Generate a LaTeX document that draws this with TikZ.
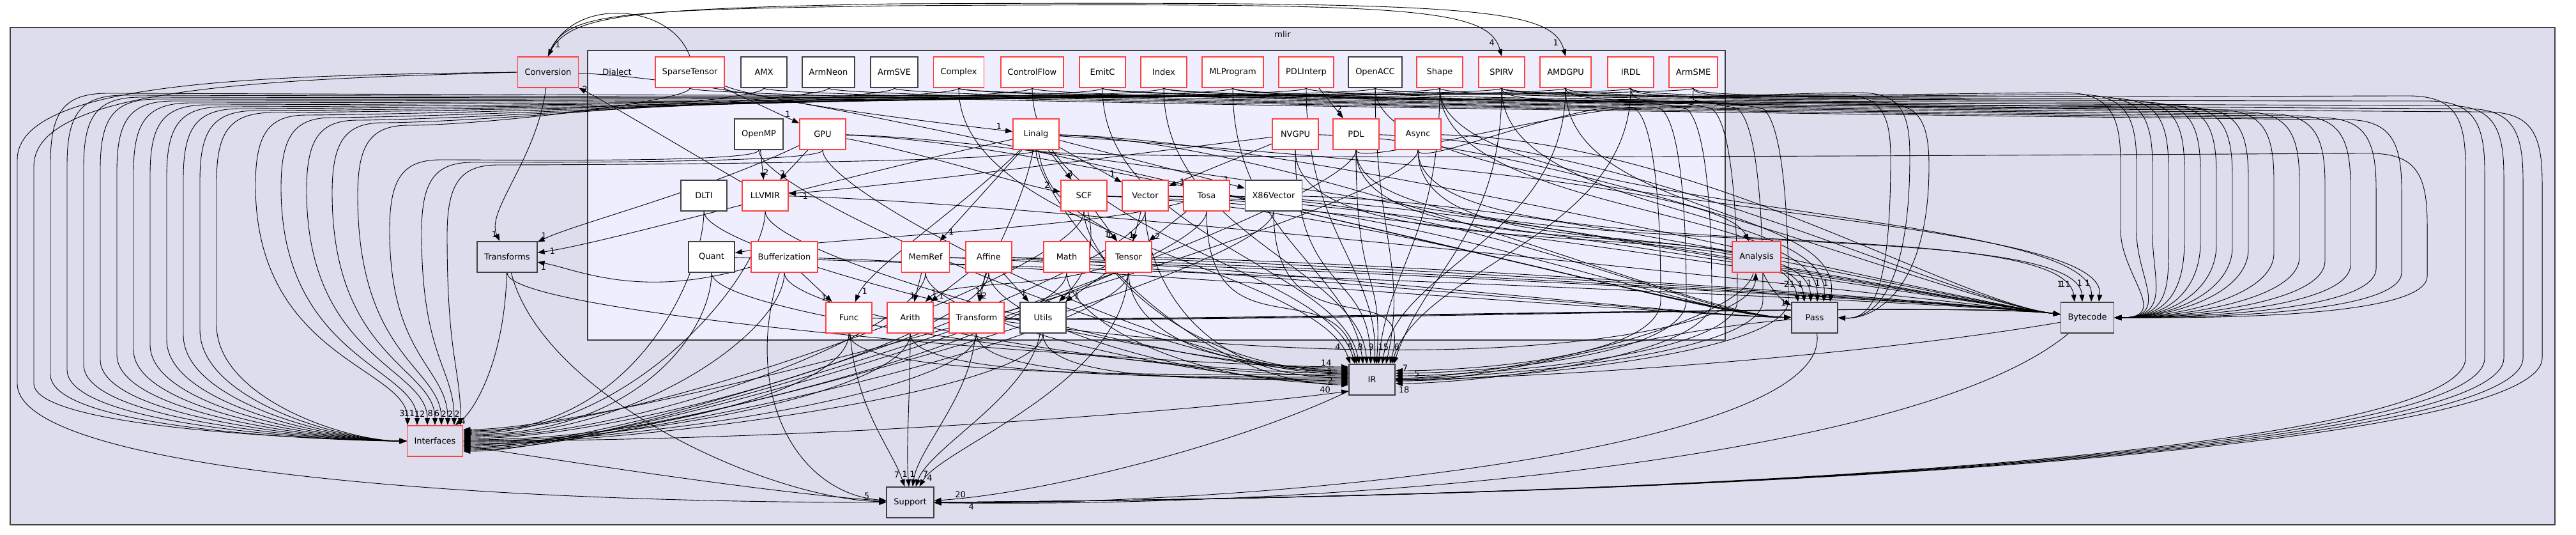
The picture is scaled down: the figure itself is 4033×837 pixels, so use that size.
\documentclass[tikz,border=0pt]{standalone}
\usepackage{fontspec}
\setmainfont{DejaVu Sans}
\usetikzlibrary{arrows.meta, calc}
\definecolor{mlirbg}{RGB}{221,221,238}
\definecolor{dialbg}{RGB}{238,238,255}
\definecolor{redbrd}{RGB}{255,64,64}
\definecolor{grybrd}{RGB}{64,64,64}
\newcommand{\dirfont}{\fontsize{13}{15}\selectfont}
\pgfdeclarelayer{frames}
\pgfdeclarelayer{edges}
\pgfsetlayers{frames,edges,main}
\tikzset{
  % directory boxes
  dirnode/.style  = {rectangle, minimum width=72pt, minimum height=48pt, inner xsep=11pt, font=\dirfont},
  dirred/.style   = {dirnode, fill=white, draw=redbrd, line width=1.8pt},
  dirblk/.style   = {dirnode, fill=white, draw=grybrd, line width=1.8pt},
  outred/.style   = {dirnode, fill=mlirbg, draw=redbrd, line width=1.8pt},
  outblk/.style   = {dirnode, fill=mlirbg, draw=grybrd, line width=1.8pt},
  frameline/.style= {draw=grybrd, line width=1.4pt},
  % dependencies
  dep/.style      = {-{Triangle[length=11pt,width=8pt]}, line width=0.9pt, black},
  lab/.style      = {font=\dirfont, inner sep=0.5pt},
}

\begin{document}
\begin{tikzpicture}[x=1pt, y=-1pt]
  \useasboundingbox (0,0) rectangle (4033,837);
  % clusters
  \begin{pgfonlayer}{frames}
    \draw[frameline, fill=mlirbg] (16,43) rectangle (4000,821);
    \draw[frameline, fill=dialbg] (920,79) rectangle (2701,532);
  \end{pgfonlayer}
  \node[font=\dirfont] (mlir) at (2008,54) {mlir};
  \node[font=\dirfont] (Dialect) at (966,113) {Dialect};
  % row 1
  \node[outred] (Conversion)   at (858,113)  {Conversion};
  \node[dirred] (SparseTensor) at (1080,113) {SparseTensor};
  \node[dirblk] (AMX)          at (1196,113) {AMX};
  \node[dirblk] (ArmNeon)      at (1297,113) {ArmNeon};
  \node[dirblk] (ArmSVE)       at (1400,113) {ArmSVE};
  \node[dirred] (Complex)      at (1501,113) {Complex};
  \node[dirred] (ControlFlow)  at (1616,113) {ControlFlow};
  \node[dirred] (EmitC)        at (1726,113) {EmitC};
  \node[dirred] (Index)        at (1822,113) {Index};
  \node[dirred] (MLProgram)    at (1930,113) {MLProgram};
  \node[dirred] (PDLInterp)    at (2045,113) {PDLInterp};
  \node[dirblk] (OpenACC)      at (2153,113) {OpenACC};
  \node[dirred] (Shape)        at (2254,113) {Shape};
  \node[dirred] (SPIRV)        at (2351,113) {SPIRV};
  \node[dirred] (AMDGPU)       at (2451,113) {AMDGPU};
  \node[dirred] (IRDL)         at (2553,113) {IRDL};
  \node[dirred] (ArmSME)       at (2651,113) {ArmSME};
  % row 2
  \node[dirblk] (OpenMP) at (1188,210) {OpenMP};
  \node[dirred] (GPU)    at (1288,210) {GPU};
  \node[dirred] (Linalg) at (1622,210) {Linalg};
  \node[dirred] (NVGPU)  at (2028,210) {NVGPU};
  \node[dirred] (PDL)    at (2123,210) {PDL};
  \node[dirred] (Async)  at (2220,210) {Async};
  % row 3
  \node[dirblk] (DLTI)      at (1102,306) {DLTI};
  \node[dirred] (LLVMIR)    at (1198,306) {LLVMIR};
  \node[dirred] (SCF)       at (1697,306) {SCF};
  \node[dirred] (Vector)    at (1793,306) {Vector};
  \node[dirred] (Tosa)      at (1889,306) {Tosa};
  \node[dirblk] (X86Vector) at (1994,306) {X86Vector};
  % row 4
  \node[outblk] (Transforms)    at (794,402)  {Transforms};
  \node[dirblk] (Quant)         at (1114,402) {Quant};
  \node[dirred] (Bufferization) at (1228,402) {Bufferization};
  \node[dirred] (MemRef)        at (1449,402) {MemRef};
  \node[dirred] (Affine)        at (1548,402) {Affine};
  \node[dirred] (Math)          at (1670,402) {Math};
  \node[dirred] (Tensor)        at (1767,402) {Tensor};
  \node[outred] (Analysis)      at (2750,402) {Analysis};
  % row 5
  \node[dirred] (Func)      at (1329,497) {Func};
  \node[dirred] (Arith)     at (1425,497) {Arith};
  \node[dirred] (Transform) at (1529,497) {Transform};
  \node[dirblk] (Utils)     at (1633,497) {Utils};
  \node[outblk] (Pass)      at (2841,497) {Pass};
  \node[outblk] (Bytecode)  at (3268,497) {Bytecode};
  % bottom
  \node[outred] (Interfaces) at (681,690)  {Interfaces};
  \node[outblk] (IR)         at (2148,594) {IR};
  \node[outblk] (Support)    at (1425,786) {Support};

  \begin{pgfonlayer}{edges}
  % arcs above the frame
  \draw[dep] (SparseTensor.north) .. controls (1050,5) and (900,-5) .. (Conversion.north)
    node[lab, pos=0.93, right] {1};
  \draw[dep] (Conversion.north) .. controls (880,20) and (950,16) .. (1400,9)
    .. controls (2200,4) and (2330,10) .. (SPIRV.north) node[lab, pos=0.9, left] {4};
  \draw[dep] (Conversion.north) .. controls (885,25) and (960,14) .. (1400,6)
    .. controls (2300,2) and (2430,10) .. (AMDGPU.north) node[lab, pos=0.9, left] {1};

  % left curtain into Interfaces
  \draw[dep] (Conversion.west) .. controls (420,118) and (27,125) .. (27,250)
    -- (27,600) .. controls (27,730) and (700,786) .. (Support.west);
  \draw[dep] (Conversion.west) .. controls (430,124) and (53,135) .. (53,260)
    -- (53,600) .. controls (53,672) and (520,688) .. (Interfaces.west);
  \foreach \src/\col/\bus in {ArmSME/79/146, IRDL/105/149, AMDGPU/131/152, SPIRV/157/155,
      Shape/183/158, OpenACC/209/161, PDLInterp/235/164, MLProgram/261/167,
      Index/287/170, EmitC/313/173, ControlFlow/339/176}
    \draw[dep] (\src.south) .. controls +(0,20) and ({\col+260},\bus) .. ({\col+90},\bus)
      .. controls ({\col+20},\bus) and (\col,{\bus+30}) .. (\col,{\bus+110})
      -- (\col,{610-0.3*\col}) .. controls (\col,{690-0.2*\col}) and (540,690) .. (Interfaces.west);

  % into Interfaces from above
  \foreach \src/\col/\bus/\dx/\lbl in {Complex/400/180/-43/3, ArmSVE/440/184/-28/11,
      ArmNeon/480/188/-12/12, AMX/520/192/0/8, SparseTensor/560/196/10/6,
      OpenMP/610/250/20/2, GPU/660/254/30/2, Linalg/700/258/40/2}
    \draw[dep] (\src.south) .. controls +(0,20) and ({\col+200},\bus) .. ({\col+80},\bus)
      .. controls ({\col+20},\bus) and (\col,{\bus+30}) .. (\col,{\bus+110})
      .. controls (\col,560) and ($(Interfaces.north)+(\dx,-90)$) .. ($(Interfaces.north)+(\dx,0)$)
      node[lab, pos=0.93, left] {\lbl};
  \draw[dep] (Transforms) .. controls (790,560) and (745,640) .. (Interfaces)
    node[lab, pos=0.93, right] {4};

  % into Interfaces from the right
  \foreach \src/\dy in {DLTI/-14, LLVMIR/-12, Quant/-10, Bufferization/-8, Func/-2, Arith/0,
      Transform/2, Utils/4, MemRef/-6, Affine/-4, Math/6, Tensor/8, SCF/-16, Vector/10,
      Tosa/12, X86Vector/14, Async/-18, PDL/16}
    \draw[dep] (\src.south) .. controls +(0,90) and (1000,{690+\dy}) .. ($(Interfaces.east)+(0,\dy)$);
  \node[lab] (lbIb) at (736,677) {3};

  % into IR from above
  \foreach \src/\dx/\lbl in {Complex/-34/4, ControlFlow/-27/{}, EmitC/-20/5, Index/-8/8,
      MLProgram/-14/{}, PDLInterp/4/9, OpenACC/22/15, Shape/10/{}, SPIRV/34/6, AMDGPU/16/{},
      X86Vector/28/{}, NVGPU/-2/{}, PDL/7/{}, Tosa/-24/{}, IRDL/31/{}}
    \draw[dep] (\src.south) .. controls ($(\src.south)+(0,230)$) and ($(IR.north)+({2.5*\dx},-150)$)
      .. ($(IR.north)+(\dx,0)$) node[lab, pos=0.94, left] {\lbl};

  % into IR from the left
  \foreach \src/\dy/\lbl in {Transforms/-20/14, DLTI/-16/{}, LLVMIR/-13/{}, Quant/-10/{},
      Bufferization/-6/3, Func/-8/{}, Arith/-4/{}, Transform/-2/{}, Utils/0/{}, MemRef/2/{},
      Affine/4/{}, Math/6/{}, Tensor/-18/{}, SCF/-14/{}, GPU/-11/{}, OpenMP/-9/{},
      Linalg/8/2, Vector/-3/{}}
    \draw[dep] (\src.south) .. controls +(0,70) and (1850,{594+\dy}) .. ($(IR.west)+(0,\dy)$)
      node[lab, pos=0.97, above left] {\lbl};
  \draw[dep] (Interfaces.east) .. controls (1300,690) and (1900,640) .. ($(IR.west)+(0,18)$)
    node[lab, pos=0.96, above left] {40};

  % into IR from the right
  \draw[dep] (Pass) .. controls (2550,520) and (2350,598) .. (IR);
  \draw[dep] (Bytecode) .. controls (2900,560) and (2400,592) .. (IR);
  \draw[dep] (Analysis) .. controls (2730,500) and (2400,584) .. (IR) node[lab, pos=0.95, above] {5};
  \foreach \src/\col/\dy in {Async/2600/-14, PDL/2640/-10, IRDL/2720/-6, ArmSME/2760/-2,
      AMDGPU/2800/2, SPIRV/2680/6}
    \draw[dep] (\src.south) .. controls +(0,30) and ({\col-120},150) .. ({\col-40},170)
      .. controls (\col,200) and (\col,420) .. (\col,470)
      .. controls (\col,560) and (2300,{594+\dy}) .. ($(IR.east)+(0,\dy)$);
  \node[lab] (lbIRa) at (2198,610) {18};
  \node[lab] (lbIRb) at (2200,576) {7};

  % right curtain into Bytecode
  \foreach \src/\col/\bus in {ArmSME/3320/145, IRDL/3345/148, AMDGPU/3370/151, SPIRV/3395/154,
      Shape/3420/157, PDLInterp/3445/160, MLProgram/3470/163, Index/3495/166, EmitC/3520/169,
      ControlFlow/3560/172, Complex/3600/175, ArmSVE/3640/178, ArmNeon/3680/181,
      AMX/3720/184, SparseTensor/3760/187, Linalg/3800/240}
    \draw[dep] (\src.south) .. controls +(0,20) and ({\col-260},\bus) .. ({\col-90},\bus)
      .. controls ({\col-20},\bus) and (\col,{\bus+30}) .. (\col,{\bus+110})
      -- (\col,{360+0.15*(\col-3320)}) .. controls (\col,{430+0.15*(\col-3320)}) and (3400,497)
      .. (Bytecode.east);

  % far right sweep into Support
  \foreach \src/\col/\bus in {OpenACC/3860/150, SPIRV/3890/158, Complex/3920/165,
      EmitC/3950/170, Index/3980/175}
    \draw[dep] (\src.south) .. controls +(0,20) and ({\col-260},\bus) .. ({\col-90},\bus)
      .. controls ({\col-20},\bus) and (\col,{\bus+30}) .. (\col,{\bus+110})
      -- (\col,560) .. controls (\col,690) and (2900,775) .. (Support.east);

  % into Support
  \draw[dep] (Func) .. controls (1340,640) and (1395,700) .. (Support) node[lab, pos=0.9, left] {7};
  \draw[dep] (Arith) .. controls (1425,620) and (1418,700) .. (Support) node[lab, pos=0.9, left] {1};
  \draw[dep] (Transform) .. controls (1520,620) and (1438,700) .. (Support) node[lab, pos=0.9, left] {1};
  \draw[dep] (Utils) .. controls (1610,620) and (1455,700) .. (Support) node[lab, pos=0.9, right] {7};
  \draw[dep] (Tensor) .. controls (1760,600) and (1475,700) .. (Support) node[lab, pos=0.93, right] {4};
  \draw[dep] (Interfaces) .. controls (1000,740) and (1250,775) .. (Support) node[lab, pos=0.93, above] {5};
  \draw[dep] (Transforms) .. controls (850,620) and (1200,780) .. (Support);
  \draw[dep] (Bufferization) .. controls (1160,620) and (1250,772) .. (Support);
  \draw[dep] (IR) .. controls (1950,690) and (1650,770) .. (Support) node[lab, pos=0.93, above] {20};
  \draw[dep] (Pass) .. controls (2870,700) and (2000,792) .. (Support);
  \draw[dep] (Bytecode) .. controls (3000,720) and (2100,795) .. (Support) node[lab, pos=0.97, below] {4};

  % into Pass
  \foreach \src in {Linalg, GPU, SCF, Tosa, MemRef, Affine, Bufferization, Vector, Conversion}
    \draw[dep] (\src) .. controls ($(\src.east)+(400,15)$) and (2650,495) .. (Pass);
  \draw[dep] (Analysis) .. controls (2770,450) and (2790,470) .. (Pass) node[lab, pos=0.85, left] {1};
  \foreach \src/\dx/\lbl in {Async/-26/2, NVGPU/-16/1, PDL/-6/1, Shape/4/1, SPIRV/14/1, AMDGPU/24/1}
    \draw[dep] (\src.south) .. controls ($(\src.south)+(0,200)$) and ($(Pass.north)+({2*\dx},-150)$)
      .. ($(Pass.north)+(\dx,0)$) node[lab, pos=0.93, left] {\lbl};
  \foreach \src/\col/\bus in {IRDL/2960/148, ArmSME/2990/145, MLProgram/3020/160}
    \draw[dep] (\src.south) .. controls +(0,20) and ({\col-200},\bus) .. ({\col-80},\bus)
      .. controls ({\col-15},\bus) and (\col,{\bus+30}) .. (\col,{\bus+100})
      .. controls (\col,460) and (2930,500) .. (Pass.east);

  % into Bytecode from the left
  \foreach \src in {SCF, Tosa, MemRef, Affine, Arith, Func, Tensor, Vector, Math, Async, PDL,
      NVGPU, GPU, LLVMIR, Quant, Linalg, Transform, X86Vector}
    \draw[dep] (\src) .. controls ($(\src.east)+(400,10)$) and (3050,470) .. (Bytecode);
  \foreach \src/\dx/\lbl in {Async/-20/1, PDL/-8/11, Shape/6/1, OpenACC/18/1}
    \draw[dep] (\src.south) .. controls ($(\src.south)+(0,200)$) and ($(Bytecode.north)+({2*\dx},-150)$)
      .. ($(Bytecode.north)+(\dx,0)$) node[lab, pos=0.93, left] {\lbl};

  % Analysis
  \draw[dep] (Linalg) .. controls (2300,260) and (2700,300) .. (Analysis);
  \draw[dep] (Transform) .. controls (2300,600) and (2745,520) .. (Analysis);

  % inside Dialect
  \draw[dep] (Linalg) -- (SCF) node[lab, pos=0.8, right] {3};
  \draw[dep] (Linalg) -- (Vector) node[lab, pos=0.85, above] {1};
  \draw[dep] (Linalg) -- (X86Vector) node[lab, pos=0.9, above] {1};
  \draw[dep] (Linalg) -- (MemRef) node[lab, pos=0.9, right] {1};
  \draw[dep] (Linalg) .. controls (1640,330) and (1720,340) .. (Tensor) node[lab, pos=0.9, left] {1};
  \draw[dep] (GPU) .. controls (1450,240) and (1600,290) .. (SCF) node[lab, pos=0.9, above] {2};
  \draw[dep] (OpenMP) -- (LLVMIR) node[lab, pos=0.75, right] {2};
  \draw[dep] (GPU) -- (LLVMIR) node[lab, pos=0.8, left] {2};
  \draw[dep] (NVGPU) .. controls (1700,250) and (1400,290) .. (LLVMIR) node[lab, pos=0.95, below] {1};
  \draw[dep] (NVGPU) -- (Vector) node[lab, pos=0.9, right] {1};
  \draw[dep] (PDLInterp) -- (PDL) node[lab, pos=0.7, right] {2};
  \draw[dep] (SCF) -- (Tensor) node[lab, pos=0.8, left] {1};
  \draw[dep] (Vector) -- (Tensor) node[lab, pos=0.8, left] {1};
  \draw[dep] (Tosa) -- (Tensor) node[lab, pos=0.85, right] {2};
  \draw[dep] (Tosa) .. controls (1700,360) and (1300,370) .. (Quant) node[lab, pos=0.95, right] {2};
  \draw[dep] (Bufferization) -- (Func) node[lab, pos=0.85, left] {1};
  \draw[dep] (Linalg) .. controls (1500,330) and (1360,420) .. (Func) node[lab, pos=0.9, right] {1};
  \draw[dep] (Tensor) .. controls (1650,450) and (1480,440) .. (Arith) node[lab, pos=0.9, above] {1};
  \draw[dep] (Affine) -- (Arith) node[lab, pos=0.8, right] {1};
  \draw[dep] (MemRef) -- (Arith) node[lab, pos=0.8, left] {1};
  \draw[dep] (Affine) -- (Transform) node[lab, pos=0.8, right] {2};
  \draw[dep] (Linalg) .. controls (1600,330) and (1540,420) .. (Transform) node[lab, pos=0.9, left] {1};
  \draw[dep] (Affine) -- (Utils) node[lab, pos=0.8, above] {1};
  \draw[dep] (Tensor) -- (Utils) node[lab, pos=0.8, right] {1};
  \draw[dep] (SCF) .. controls (1720,400) and (1690,440) .. (Utils) node[lab, pos=0.9, right] {2};
  \draw[dep] (SparseTensor) .. controls (1200,160) and (1450,190) .. (Linalg) node[lab, pos=0.95, above] {1};
  \draw[dep] (SparseTensor) -- (GPU) node[lab, pos=0.85, above] {1};
  \draw[dep] (LLVMIR) .. controls (1100,250) and (950,160) .. (Conversion) node[lab, pos=0.97, right] {2};

  % into Transforms
  \draw[dep] (Conversion) .. controls (840,250) and (760,330) .. (Transforms) node[lab, pos=0.93, left] {1};
  \draw[dep] (GPU) .. controls (1100,300) and (900,350) .. (Transforms) node[lab, pos=0.95, above] {1};
  \draw[dep] (Linalg) .. controls (1300,280) and (950,380) .. (Transforms) node[lab, pos=0.95, right] {1};
  \draw[dep] (Bufferization) .. controls (1000,470) and (900,420) .. (Transforms) node[lab, pos=0.95, below] {1};
  \end{pgfonlayer}
\end{tikzpicture}
\end{document}
